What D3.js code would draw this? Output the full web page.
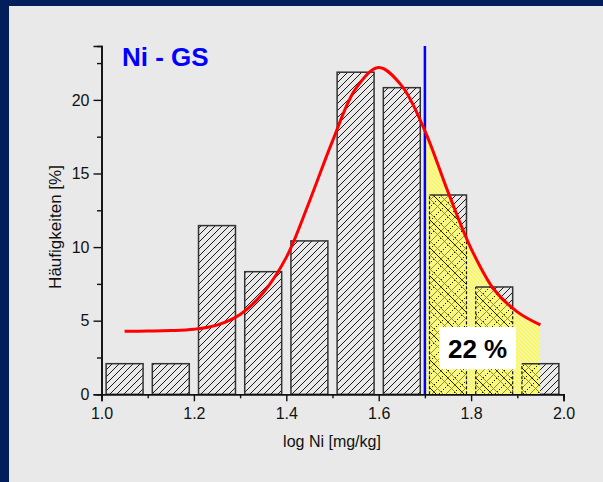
<!DOCTYPE html>
<html>
<head>
<meta charset="utf-8">
<script src="https://cdn.jsdelivr.net/npm/d3@7"></script>
<style>
  html, body { margin: 0; padding: 0; background: #e9e9e9; }
  svg { display: block; font-family: "Liberation Sans", Arial, Helvetica, sans-serif; }
</style>
</head>
<body>
<svg id="chart" width="603" height="482"></svg>
<script>
// Histogram classes (lower edge of each log-class) and relative frequencies in %
const binStart = [1.0, 1.1, 1.2, 1.3, 1.4, 1.5, 1.6, 1.7, 1.8, 1.9];
const binWidth = 0.1;
const frequency = [2.08, 2.08, 11.46, 8.33, 10.42, 21.88, 20.83, 13.54, 7.29, 2.08];

// Fitted distribution curve, sampled points
const fitX = [1.05, 1.10, 1.15, 1.20, 1.25, 1.30, 1.35, 1.40, 1.45, 1.50,
              1.55, 1.60, 1.65, 1.70, 1.75, 1.80, 1.85, 1.90, 1.95];
const fitY = [4.28, 4.30, 4.33, 4.42, 4.70, 5.42, 6.90, 9.30, 13.10, 17.20,
              20.75, 22.20, 20.95, 17.90, 13.75, 9.90, 7.10, 5.60, 4.71];

// Threshold and exceedance share
const threshold = 1.7;
const exceedEnd = 1.95;
const exceedLabel = "22 %";
const exceedBox = [1.731, 1.897, 1.70, 4.57];   // x0, x1, y0, y1 in data units

const title = "Ni - GS";
const xTitle = "log Ni [mg/kg]";
const yTitle = "Häufigkeiten [%]";
const xTicks = [1.0, 1.2, 1.4, 1.6, 1.8, 2.0];
const xMinorTicks = [1.1, 1.3, 1.5, 1.7, 1.9];
const yTicks = [0, 5, 10, 15, 20];
const yMinorTicks = [2.5, 7.5, 12.5, 17.5, 22.5];

const W = 603, H = 482;
const bg = "#e9e9e9";
const svg = d3.select("#chart");

// frame: navy edge on top and left
svg.append("rect").attr("width", W).attr("height", H).attr("fill", "#021f5b");
svg.append("rect").attr("x", 9).attr("y", 6).attr("width", W - 9).attr("height", H - 6).attr("fill", bg);

const x = d3.scaleLinear().domain([1.0, 2.0]).range([101.5, 563.5]);
const y = d3.scaleLinear().domain([0, 23.66]).range([394.3, 46]);

// patterns
const defs = svg.append("defs");
function hatch(id, size, d, color, width) {
  defs.append("pattern").attr("id", id).attr("patternUnits", "userSpaceOnUse")
    .attr("width", size).attr("height", size)
    .append("path").attr("d", d).attr("stroke", color).attr("stroke-width", width)
    .attr("fill", "none");
}
const s = 7;
hatch("fwd", s, `M-1,1 L1,-1 M0,${s} L${s},0 M${s - 1},${s + 1} L${s + 1},${s - 1}`, "#1a1a1a", 1);
const crossD = `M-1,1 L1,-1 M0,${s} L${s},0 M${s - 1},${s + 1} L${s + 1},${s - 1} M-1,${s - 1} L1,${s + 1} M0,0 L${s},${s} M${s - 1},-1 L${s + 1},1`;
hatch("cross", s, crossD, "#151515", 1);
const ys = 4;
hatch("yel", ys, `M-1,${ys - 1} L1,${ys + 1} M0,0 L${ys},${ys} M${ys - 1},-1 L${ys + 1},1`, "#ffff22", 1.5);

// clip: area under fitted curve, between threshold and end of curve
const curveType = d3.curveCatmullRom.alpha(0.5);
const fitPts = fitX.map((v, i) => [v, fitY[i]]);
const areaGen = d3.area().x(d => x(d[0])).y0(y(0)).y1(d => y(d[1])).curve(curveType);
defs.append("clipPath").attr("id", "underCurve").append("path").attr("d", areaGen(fitPts));
defs.append("clipPath").attr("id", "exceedRange").append("rect")
  .attr("x", x(threshold)).attr("y", 0)
  .attr("width", x(exceedEnd) - x(threshold)).attr("height", y(0));

// bars
const bars = binStart.map((b, i) => ({ x0: b + 0.01, x1: b + binWidth - 0.01, v: frequency[i] }));
svg.append("g").selectAll("rect").data(bars).join("rect")
  .attr("x", d => x(d.x0)).attr("y", d => y(d.v))
  .attr("width", d => x(d.x1) - x(d.x0)).attr("height", d => y(0) - y(d.v))
  .attr("fill", "url(#fwd)").attr("stroke", "#333").attr("stroke-width", 1.5);

// shaded exceedance area
const shade = svg.append("g").attr("clip-path", "url(#exceedRange)")
  .append("g").attr("clip-path", "url(#underCurve)");
shade.append("rect").attr("x", x(threshold)).attr("y", y(25)).attr("width", x(exceedEnd) - x(threshold))
  .attr("height", y(0) - y(25)).attr("fill", "#eeeeee");
const shadedBars = bars.filter(d => d.x1 > threshold);
shade.selectAll("rect.cb").data(shadedBars).join("rect").attr("class", "cb")
  .attr("x", d => x(d.x0)).attr("y", d => y(d.v))
  .attr("width", d => x(d.x1) - x(d.x0)).attr("height", d => y(0) - y(d.v))
  .attr("fill", "url(#cross)");
shade.append("rect").attr("x", x(threshold)).attr("y", y(25)).attr("width", x(exceedEnd) - x(threshold))
  .attr("height", y(0) - y(25)).attr("fill", "url(#yel)");
shade.selectAll("path.side").data(shadedBars).join("path").attr("class", "side")
  .attr("d", d => `M${x(d.x0)},${y(0)}V${y(d.v)}M${x(d.x1)},${y(0)}V${y(d.v)}`)
  .attr("stroke", "#111").attr("stroke-width", 1.2).attr("stroke-dasharray", "3,2").attr("fill", "none");
shade.selectAll("path.top").data(shadedBars).join("path").attr("class", "top")
  .attr("d", d => `M${x(d.x0)},${y(d.v)}H${x(d.x1)}`)
  .attr("stroke", "#333").attr("stroke-width", 1.5).attr("fill", "none");

// threshold line
svg.append("line").attr("x1", x(threshold)).attr("x2", x(threshold))
  .attr("y1", y(0)).attr("y2", y(23.66))
  .attr("stroke", "#0000ff").attr("stroke-width", 2.5);

// fitted curve
svg.append("path").attr("d", d3.line().x(d => x(d[0])).y(d => y(d[1])).curve(curveType)(fitPts))
  .attr("fill", "none").attr("stroke", "#ff0000").attr("stroke-width", 3);

// exceedance label
svg.append("rect").attr("x", x(exceedBox[0])).attr("y", y(exceedBox[3]))
  .attr("width", x(exceedBox[1]) - x(exceedBox[0])).attr("height", y(exceedBox[2]) - y(exceedBox[3]))
  .attr("fill", "#ffffff");
svg.append("text").attr("x", x((exceedBox[0] + exceedBox[1]) / 2)).attr("y", 358.3)
  .attr("text-anchor", "middle").attr("font-size", 26).attr("font-weight", "bold")
  .attr("fill", "#000").text(exceedLabel);

// axes
function styleAxis(g) {
  g.select(".domain").attr("stroke", "#111").attr("stroke-width", 1.6);
  g.selectAll(".tick line").attr("stroke", "#111").attr("stroke-width", 1.4);
  g.selectAll(".tick text").attr("fill", "#111").attr("font-size", 16)
    .attr("font-family", "Liberation Sans, Arial, sans-serif");
}
const xAxis = svg.append("g").attr("transform", `translate(0,${y(0)})`)
  .call(d3.axisBottom(x).tickValues(xTicks).tickSize(7).tickPadding(6.5).tickFormat(d3.format(".1f")));
styleAxis(xAxis);
const xMinor = svg.append("g").attr("transform", `translate(0,${y(0)})`)
  .call(d3.axisBottom(x).tickValues(xMinorTicks).tickSize(4).tickFormat(""));
styleAxis(xMinor);

const yAxis = svg.append("g").attr("transform", `translate(${x(1.0)},0)`)
  .call(d3.axisLeft(y).tickValues(yTicks).tickSize(8).tickPadding(4).tickFormat(d3.format("d")));
styleAxis(yAxis);
const yMinor = svg.append("g").attr("transform", `translate(${x(1.0)},0)`)
  .call(d3.axisLeft(y).tickValues(yMinorTicks).tickSize(4.5).tickFormat(""));
styleAxis(yMinor);

// titles
svg.append("text").attr("x", 122).attr("y", 66).attr("font-size", 26).attr("font-weight", "bold")
  .attr("fill", "#0000ff").text(title);
svg.append("text").attr("x", 332).attr("y", 447).attr("text-anchor", "middle")
  .attr("font-size", 16).attr("fill", "#111").text(xTitle);
svg.append("text").attr("transform", "translate(61,227) rotate(-90)").attr("text-anchor", "middle")
  .attr("font-size", 17).attr("fill", "#111").text(yTitle);
</script>
</body>
</html>
